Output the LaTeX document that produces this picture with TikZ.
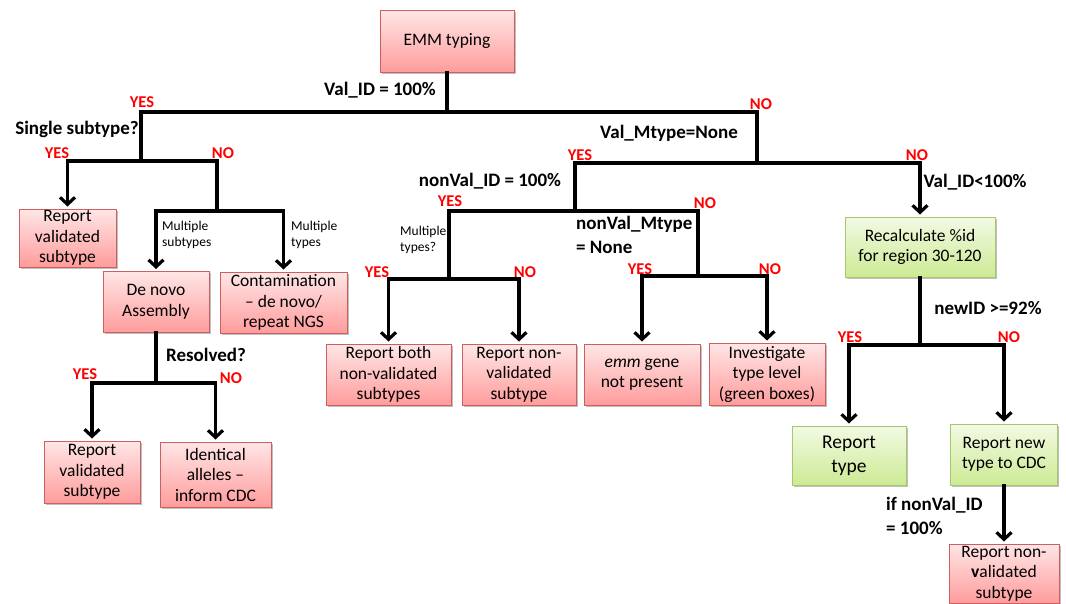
\documentclass[tikz,border=0pt]{standalone}
\usepackage{fontspec}
\setmainfont{Carlito}
\usetikzlibrary{arrows.meta,shadows}
\definecolor{pinkT}{RGB}{255,230,230}
\definecolor{pinkB}{RGB}{255,156,156}
\definecolor{pinkD}{RGB}{205,95,95}
\definecolor{greenT}{RGB}{243,250,228}
\definecolor{greenB}{RGB}{204,234,148}
\definecolor{greenD}{RGB}{165,200,110}
\definecolor{yesno}{RGB}{255,0,0}
\begin{document}
\begin{tikzpicture}[x=1pt,y=1pt,
  boxbase/.style={draw, line width=1pt, align=center, inner sep=1pt,
    font=\fontsize{17.5}{20.5}\selectfont,
    drop shadow={shadow xshift=1.5pt,shadow yshift=-1.5pt,opacity=0.25,fill=black}},
  pbox/.style={boxbase, draw=pinkD, top color=pinkT, bottom color=pinkB},
  gbox/.style={boxbase, draw=greenD, top color=greenT, bottom color=greenB},
  sz/.style 2 args={minimum width=#1pt, minimum height=#2pt},
  conn/.style={line width=3.2pt, line cap=rect, line join=miter},
  arr/.style={conn, -{Straight Barb[length=7pt,width=15pt]}, shorten >=2pt},
  lab/.style={font=\bfseries\fontsize{19}{24}\selectfont, inner sep=0pt},
  lab2/.style={lab, align=left, anchor=west},
  yn/.style={text=yesno, font=\bfseries\fontsize{16.5}{19}\selectfont, inner sep=0pt},
  sm/.style={font=\fontsize{13.5}{16}\selectfont, align=left, anchor=west, inner sep=0pt}
]
\useasboundingbox (0,0) rectangle (1066,-603);

% boxes
\node[pbox, sz={134}{62}] (emm) at (447,-41) {EMM typing};
\node[pbox, sz={97}{58}] (rvs1) at (67.5,-238) {Report\\validated\\subtype};
\node[pbox, sz={106}{61}] (denovo) at (156,-302) {De novo\\Assembly};
\node[pbox, sz={127}{61}] (contam) at (283.5,-302.5) {Contamination\\ -- de novo/\\repeat NGS};
\node[pbox, sz={96}{62}] (rvs2) at (92,-472) {Report\\validated\\subtype};
\node[pbox, sz={111}{65}] (ident) at (215.5,-474.5) {Identical\\alleles --\\inform CDC};
\node[pbox, sz={125}{61}] (rboth) at (388.5,-374.5) {Report both\\non-validated\\subtypes};
\node[pbox, sz={114}{61}] (rnon) at (519,-374.5) {Report non-\\validated\\subtype};
\node[pbox, sz={116}{61}] (emmgene) at (642,-374.5) {\textit{emm} gene\\not present};
\node[pbox, sz={116}{62}] (invest) at (767,-374) {Investigate\\type level\\(green boxes)};
\node[gbox, sz={150}{60}] (recalc) at (920,-247) {Recalculate \%id\\for region 30-120};
\node[gbox, sz={114}{59}, font=\fontsize{19.5}{24}\selectfont] (rtype) at (849,-455.5) {Report\\type};
\node[gbox, sz={107}{61}] (rnew) at (1004,-454.5) {Report new\\type to CDC};
\node[pbox, sz={110}{59}] (rnon2) at (1004,-573.5) {Report non-\\\textbf{v}alidated\\subtype};

% junctions
\coordinate (j1) at (447,-112);
\coordinate (j2) at (141,-161);
\coordinate (j3) at (217,-211);
\coordinate (j4) at (156,-383);
\coordinate (j5) at (757,-163);
\coordinate (j6) at (575,-211);
\coordinate (j7) at (449,-279);
\coordinate (j8) at (698,-276);
\coordinate (j9) at (920,-345);

% connectors
\draw[conn] (emm.south) -- (j1);
\draw[conn] (j1) -| (j2);
\draw[conn] (j1) -| (j5);
\draw[arr] (j2) -| (rvs1.north);
\draw[conn] (j2) -| (j3);
\draw[arr] (j3) -| (denovo.north);
\draw[arr] (j3) -| (contam.north);
\draw[conn] (denovo.south) -- (j4);
\draw[arr] (j4) -| (rvs2.north);
\draw[arr] (j4) -| (ident.north);
\draw[conn] (j5) -| (j6);
\draw[arr] (j5) -| (recalc.north);
\draw[conn] (j6) -| (j7);
\draw[conn] (j6) -| (j8);
\draw[arr] (j7) -| (rboth.north);
\draw[arr] (j7) -| (rnon.north);
\draw[arr] (j8) -| (emmgene.north);
\draw[arr] (j8) -| (invest.north);
\draw[conn] (recalc.south) -- (j9);
\draw[arr] (j9) -| (rtype.north);
\draw[arr] (j9) -| (rnew.north);
\draw[arr] (rnew.south) -- (rnon2.north);

% condition labels
\node[lab] (t1) at (380,-90) {Val\_ID = 100\%};
\node[lab] (t2) at (77,-129) {Single subtype?};
\node[lab] (t3) at (669,-133) {Val\_Mtype=None};
\node[lab] (t4) at (490,-181) {nonVal\_ID = 100\%};
\node[lab] (t5) at (975,-182) {Val\_ID<100\%};
\node[lab2] (t6) at (576,-235) {nonVal\_Mtype\\= None};
\node[lab] (t7) at (206,-355) {Resolved?};
\node[lab] (t8) at (988,-308) {newID >=92\%};
\node[lab2] (t9) at (886,-516) {if nonVal\_ID\\= 100\%};
\node[sm] (s1) at (162,-235) {Multiple\\subtypes};
\node[sm] (s2) at (291,-235) {Multiple\\types};
\node[sm] (s3) at (400,-240) {Multiple\\types?};

% yes / no
\node[yn] (y1) at (142,-102) {YES};
\node[yn] (n1) at (761,-104) {NO};
\node[yn] (y2) at (57,-153) {YES};
\node[yn] (n2) at (223,-153) {NO};
\node[yn] (y3) at (580,-155) {YES};
\node[yn] (n3) at (917,-155) {NO};
\node[yn] (y4) at (450,-201) {YES};
\node[yn] (n4) at (705,-203) {NO};
\node[yn] (y5) at (377,-272) {YES};
\node[yn] (n5) at (525,-272) {NO};
\node[yn] (y6) at (640,-269) {YES};
\node[yn] (n6) at (770,-269) {NO};
\node[yn] (y7) at (85,-374) {YES};
\node[yn] (n7) at (231,-378) {NO};
\node[yn] (y8) at (850,-337) {YES};
\node[yn] (n8) at (1009,-337) {NO};
\end{tikzpicture}
\end{document}
